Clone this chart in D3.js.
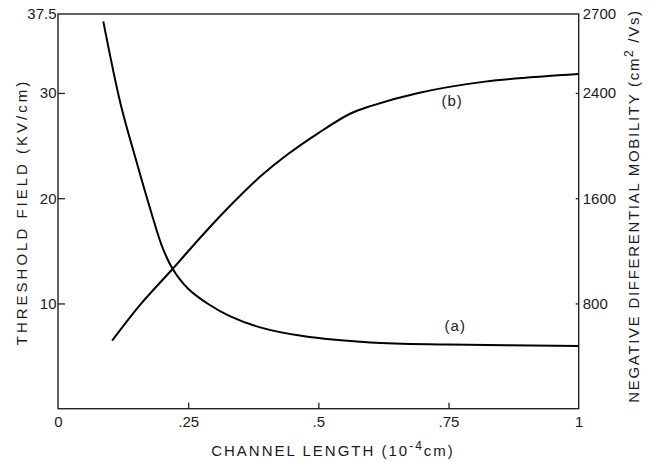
<!DOCTYPE html>
<html>
<head>
<meta charset="utf-8">
<script src="https://cdn.jsdelivr.net/npm/d3@7"></script>
<style>
  body { margin: 0; background: #fff; }
  svg { display: block; }
  text { font-family: "Liberation Sans", Arial, sans-serif; fill: #1a1a1a; }
</style>
</head>
<body>
<svg id="chart" width="653" height="462"></svg>
<script>
// Channel length in units of 1e-4 cm
const lengthA = [0.087, 0.12, 0.15, 0.18, 0.20, 0.22, 0.25, 0.29, 0.33, 0.39, 0.47, 0.60, 0.75, 1.0];
// (a) threshold field, kV/cm
const thresholdField = [36.8, 29.0, 23.6, 18.5, 15.4, 13.3, 11.4, 9.9, 8.8, 7.7, 6.9, 6.3, 6.1, 5.95];

const lengthB = [0.104, 0.16, 0.22, 0.28, 0.34, 0.39, 0.44, 0.50, 0.56, 0.60, 0.69, 0.82, 1.0];
// (b) negative differential mobility, cm^2/Vs
const mobility = [517, 800, 1062, 1330, 1580, 1770, 1930, 2095, 2240, 2300, 2398, 2443, 2472];

const xTicks = [0, 0.25, 0.5, 0.75, 1];
const xTickLabels = ["0", ".25", ".5", ".75", "1"];
const fieldTicks = [10, 20, 30, 37.5];
const mobilityTicks = [800, 1600, 2400, 2700];

const svg = d3.select("#chart");
const m = { left: 58, right: 74.3, top: 14, bottom: 53.3 };
const W = 653, H = 462;
const x0 = m.left, x1 = W - m.right, y0 = H - m.bottom, y1 = m.top;

const x = d3.scaleLinear().domain([0, 1]).range([x0, x1]);
const yField = d3.scaleLinear().domain([0, 37.5]).range([y0, y1]);
// right-hand scale: 800 per 10 kV/cm up to 2400, top of frame labelled 2700
const yMob = d3.scaleLinear().domain([0, 2400, 2700]).range([y0, yField(30), y1]);

// frame
svg.append("rect")
  .attr("x", x0).attr("y", y1)
  .attr("width", x1 - x0).attr("height", y0 - y1)
  .attr("fill", "none").attr("stroke", "#222").attr("stroke-width", 1.4);

function styleAxis(g) {
  g.select(".domain").remove();
  g.selectAll(".tick line").attr("stroke", "#222").attr("stroke-width", 1.3);
  g.selectAll(".tick text").style("font-size", "15px").attr("fill", "#1a1a1a");
}

svg.append("g")
  .attr("transform", `translate(0,${y0})`)
  .call(d3.axisBottom(x).tickValues(xTicks)
    .tickFormat((d, i) => xTickLabels[i]).tickSize(-6).tickPadding(8))
  .call(styleAxis)
  .call(g => g.selectAll(".tick").filter(d => d === 0 || d === 1).select("line").remove());

svg.append("g")
  .attr("transform", `translate(${x0},0)`)
  .call(d3.axisLeft(yField).tickValues(fieldTicks)
    .tickFormat(d => d === 37.5 ? "37.5" : d3.format("d")(d)).tickSize(-7).tickPadding(1.5))
  .call(styleAxis)
  .call(g => g.selectAll(".tick").filter(d => d === 37.5).select("line").remove());

svg.append("g")
  .attr("transform", `translate(${x1},0)`)
  .call(d3.axisRight(yMob).tickValues(mobilityTicks)
    .tickFormat(d3.format("d")).tickSize(-3).tickPadding(4))
  .call(styleAxis)
  .call(g => g.selectAll(".tick").filter(d => d === 2700).select("line").remove());

// curves
const curveA = d3.line().x((d, i) => x(lengthA[i])).y(d => yField(d)).curve(d3.curveCatmullRom.alpha(0.5));
const curveB = d3.line().x((d, i) => x(lengthB[i])).y(d => yMob(d)).curve(d3.curveCatmullRom.alpha(0.5));

svg.append("path").attr("d", curveA(thresholdField))
  .attr("fill", "none").attr("stroke", "#000").attr("stroke-width", 2);
svg.append("path").attr("d", curveB(mobility))
  .attr("fill", "none").attr("stroke", "#000").attr("stroke-width", 2);

// curve tags
svg.append("text").attr("x", x(0.763)).attr("y", yField(7.76))
  .attr("text-anchor", "middle").attr("dominant-baseline", "middle")
  .style("font-size", "15px").style("letter-spacing", "1px").text("(a)");
svg.append("text").attr("x", x(0.757)).attr("y", yField(29.1))
  .attr("text-anchor", "middle").attr("dominant-baseline", "middle")
  .style("font-size", "15px").style("letter-spacing", "1px").text("(b)");

// axis titles
const xt = svg.append("text").attr("x", 333).attr("y", 456)
  .attr("text-anchor", "middle").style("font-size", "15px").style("letter-spacing", "2px");
xt.append("tspan").text("CHANNEL LENGTH (10");
xt.append("tspan").attr("dy", -6).style("font-size", "12px").text("-4");
xt.append("tspan").attr("dy", 6).text("cm)");

svg.append("text")
  .attr("transform", "translate(27,212) rotate(-90)")
  .attr("text-anchor", "middle").style("font-size", "15px").style("letter-spacing", "3px")
  .text("THRESHOLD  FIELD  (KV/cm)");

const rt = svg.append("text")
  .attr("transform", "translate(639,206) rotate(-90)")
  .attr("text-anchor", "middle").style("font-size", "15px").style("letter-spacing", "1.7px");
rt.append("tspan").text("NEGATIVE  DIFFERENTIAL  MOBILITY  (cm");
rt.append("tspan").attr("dy", -6).style("font-size", "12px").text("2");
rt.append("tspan").attr("dy", 6).text(" /Vs)");
</script>
</body>
</html>
